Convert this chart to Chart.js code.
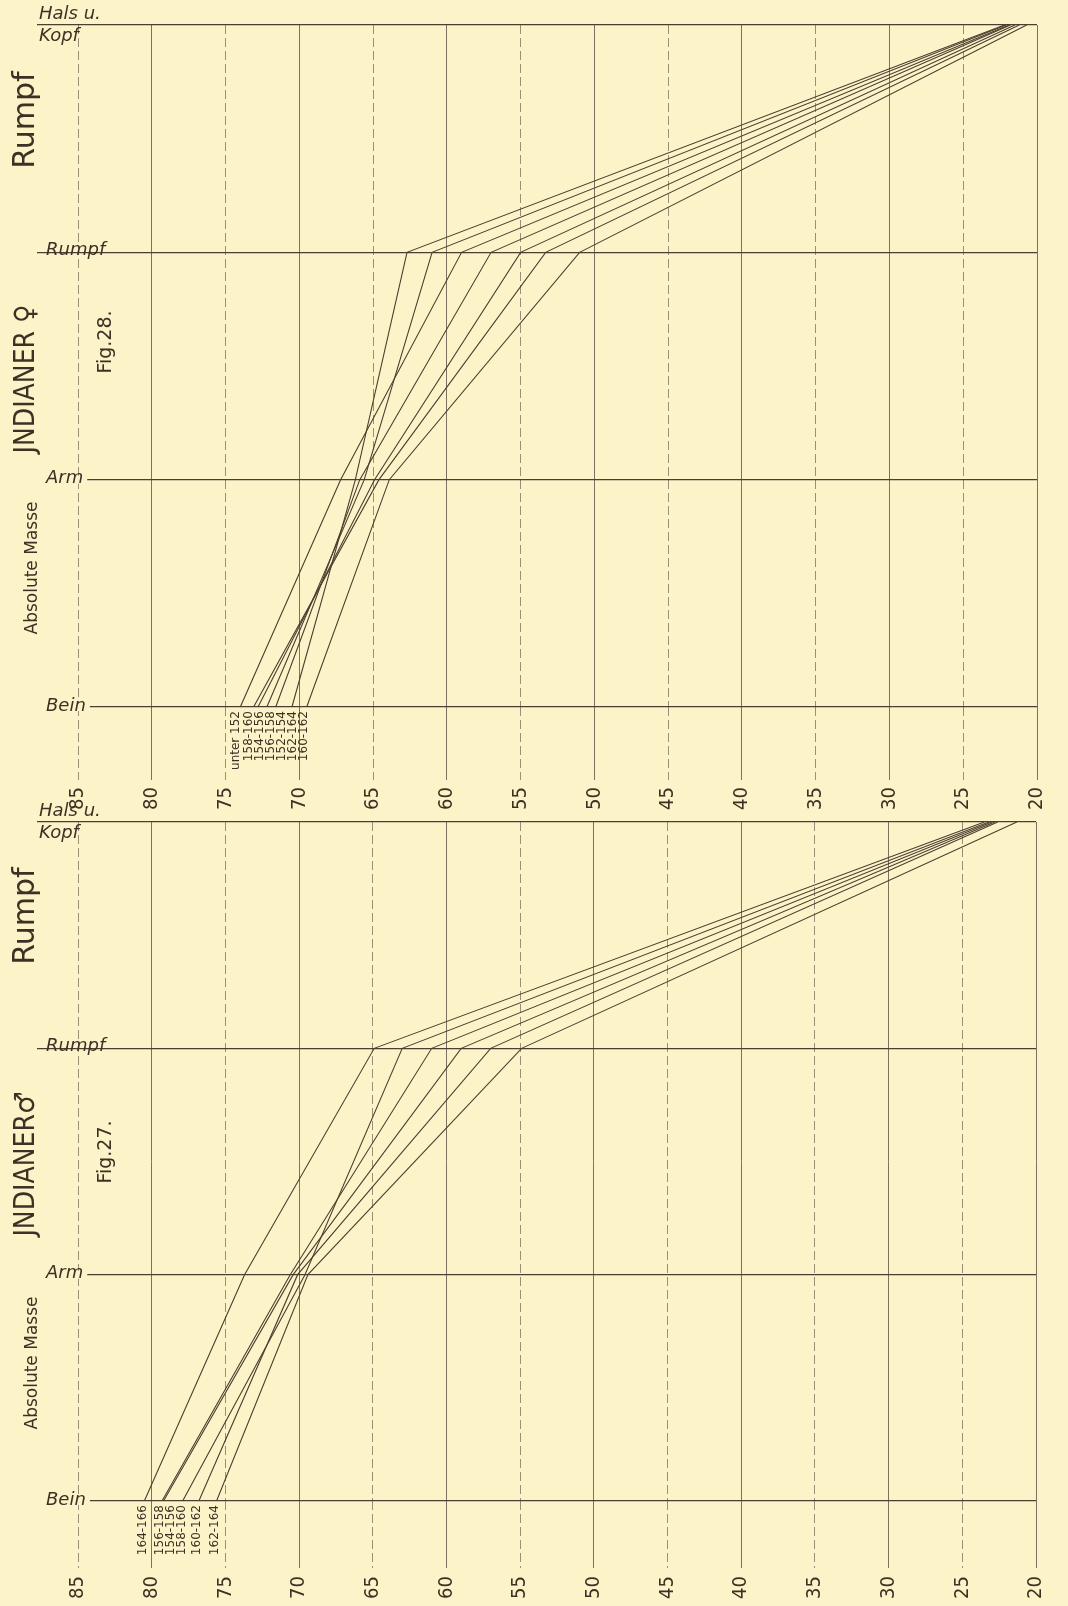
<!DOCTYPE html>
<html>
<head>
<meta charset="utf-8">
<script src="https://cdn.jsdelivr.net/npm/chart.js@4.4.1/dist/chart.umd.min.js"></script>
<style>
  html, body { margin: 0; padding: 0; background: #fcf3c8; }
  body { width: 1068px; height: 1606px; position: relative; overflow: hidden; }
  canvas { position: absolute; left: 0; }
  #fig28 { top: 0; }
  #fig27 { top: 790px; }
</style>
</head>
<body>
<canvas id="fig28" width="1068" height="820"></canvas>
<canvas id="fig27" width="1068" height="816"></canvas>
<script>
// categories, top to bottom
const yLabels = [['Hals u.', 'Kopf'], 'Rumpf', 'Arm', 'Bein'];
const axisMin = 20;
const axisMax = 85;
const axisStep = 5;

// Fig. 28 - Indianer, weiblich  [Hals u. Kopf, Rumpf, Arm, Bein]
const femaleGroups = ['unter 152', '158-160', '154-156', '156-158', '152-154', '162-164', '160-162'];
const fUnter152 = [21.9, 59.0, 67.2, 74.0];
const f158to160 = [21.2, 53.3, 64.6, 73.1];
const f154to156 = [21.5, 55.0, 64.9, 72.8];
const f156to158 = [22.1, 61.0, 65.6, 72.2];
const f152to154 = [21.8, 57.0, 65.9, 71.6];
const f162to164 = [22.2, 62.7, 66.2, 70.5];
const f160to162 = [20.7, 51.0, 63.9, 69.5];
const femaleValues = [fUnter152, f158to160, f154to156, f156to158, f152to154, f162to164, f160to162];

// Fig. 27 - Indianer, maennlich
const maleGroups = ['164-166', '156-158', '154-156', '158-160', '160-162', '162-164'];
const m164to166 = [23.5, 64.9, 73.7, 80.5];
const m156to158 = [23.0, 61.0, 70.6, 79.3];
const m154to156 = [22.8, 59.0, 70.4, 79.2];
const m158to160 = [23.2, 63.0, 69.6, 77.9];
const m160to162 = [22.6, 57.0, 70.1, 76.8];
const m162to164 = [21.3, 54.9, 69.4, 75.6];
const maleValues = [m164to166, m156to158, m154to156, m158to160, m160to162, m162to164];

const paper = '#fcf3c8';
const ink = '#3b3124';
const lineInk = '#4a3f30';
const solidGrid = '#7d7160';
const dashGrid = '#9a8e76';
const narrow = '"Liberation Sans Narrow", "DejaVu Sans Condensed", "DejaVu Sans", sans-serif';
const catFont = 'italic 18px "DejaVu Sans", sans-serif';

const isMajor = (ctx) => ctx.tick && ctx.tick.value % 10 === 0;
const dashFor = (ctx) => (ctx.tick && ctx.tick.value % 10 !== 0) ? [9, 4] : [];

const rotated = function (ctx, text, x, y) {
    ctx.save();
    ctx.translate(x, y);
    ctx.rotate(-Math.PI / 2);
    ctx.fillText(text, 0, 0);
    ctx.restore();
};

const makeTextPlugin = function (items) {
    return {
        id: 'paperText',
        afterDraw(chart) {
            const ctx = chart.ctx;
            const yScale = chart.scales.y;
            ctx.save();
            ctx.fillStyle = ink;
            ctx.textBaseline = 'middle';
            ctx.textAlign = 'center';
            items.forEach(item => {
                ctx.font = item.font;
                rotated(ctx, item.text, item.x, item.y);
            });

            // category names on the left, at their lines
            ctx.font = catFont;
            ctx.textAlign = 'left';
            yLabels.forEach((lab, i) => {
                const y = yScale.getPixelForValue(i);
                if (Array.isArray(lab)) {
                    ctx.fillText(lab[0], 39, y - 11);
                    ctx.fillText(lab[1], 39, y + 11);
                } else if (i === 1) {
                    ctx.fillText(lab, 46, y - 2);
                } else {
                    const w = ctx.measureText(lab).width;
                    ctx.fillStyle = paper;
                    ctx.fillRect(34, y - 4, w + 16, 8);
                    ctx.fillStyle = ink;
                    ctx.fillText(lab, 46, y - 1);
                }
            });

            // group labels under the Bein points, packed side by side
            const pts = chart.data.datasets.map((ds, i) => ({
                label: ds.label,
                x: chart.getDatasetMeta(i).data[3].x
            }));
            pts.sort((a, b) => a.x - b.x);
            const gap = 11;
            const pos = [];
            pts.forEach((p, i) => pos.push(i === 0 ? p.x : Math.max(p.x, pos[i - 1] + gap)));
            const shift = (pts.reduce((s, p) => s + p.x, 0) - pos.reduce((s, v) => s + v, 0)) / pts.length;
            ctx.font = '12px "DejaVu Sans", sans-serif';
            ctx.textAlign = 'right';
            pts.forEach((p, i) => rotated(ctx, p.label, pos[i] + shift, chart.chartArea.bottom + 4));
            ctx.restore();
        }
    };
};

const buildChart = function (el, groups, values, texts, layout) {
    return new Chart(el, {
        type: 'line',
        data: {
            labels: yLabels,
            datasets: groups.map((g, i) => ({
                label: g,
                data: values[i],
                borderColor: lineInk,
                borderWidth: 1.1,
                pointRadius: 0,
                pointHoverRadius: 0,
                tension: 0,
                fill: false
            }))
        },
        options: {
            indexAxis: 'y',
            responsive: false,
            animation: false,
            devicePixelRatio: 1,
            layout: { padding: { left: 40, right: 11, top: layout.top, bottom: 0 } },
            plugins: { legend: { display: false }, tooltip: { enabled: false } },
            scales: {
                x: {
                    type: 'linear',
                    reverse: true,
                    min: axisMin,
                    max: axisMax,
                    afterFit: (scale) => { scale.height = layout.axisHeight; },
                    border: { display: false, dash: dashFor },
                    grid: {
                        color: (ctx) => isMajor(ctx) ? solidGrid : dashGrid,
                        tickColor: (ctx) => isMajor(ctx) ? solidGrid : dashGrid,
                        tickBorderDash: dashFor,
                        lineWidth: 1,
                        tickLength: layout.tickLength
                    },
                    ticks: {
                        stepSize: axisStep,
                        minRotation: 90,
                        maxRotation: 90,
                        padding: layout.tickPad,
                        color: ink,
                        font: { family: narrow, size: 20 }
                    }
                },
                y: {
                    type: 'category',
                    offset: false,
                    afterFit: (scale) => { scale.width = 38; },
                    border: { display: false },
                    grid: {
                        color: lineInk,
                        tickColor: lineInk,
                        lineWidth: 1.2,
                        tickLength: 41
                    },
                    ticks: { display: false }
                }
            }
        },
        plugins: [makeTextPlugin(texts)]
    });
};

buildChart(document.getElementById('fig28'), femaleGroups, femaleValues, [
    { text: 'Rumpf', x: 26, y: 120, font: '30px "DejaVu Sans", sans-serif' },
    { text: 'JNDIANER \u2640', x: 27, y: 379, font: '28px ' + narrow },
    { text: 'Fig.28.', x: 106, y: 342, font: '19px "DejaVu Sans", sans-serif' },
    { text: 'Absolute Masse', x: 33, y: 568, font: '17px "DejaVu Sans", sans-serif' }
], { top: 25, axisHeight: 113, tickLength: 73, tickPad: 7 });

buildChart(document.getElementById('fig27'), maleGroups, maleValues, [
    { text: 'Rumpf', x: 26, y: 126, font: '30px "DejaVu Sans", sans-serif' },
    { text: 'JNDIANER\u2642', x: 27, y: 374, font: '28px ' + narrow },
    { text: 'Fig.27.', x: 106, y: 362, font: '19px "DejaVu Sans", sans-serif' },
    { text: 'Absolute Masse', x: 33, y: 573, font: '17px "DejaVu Sans", sans-serif' }
], { top: 32, axisHeight: 105, tickLength: 67, tickPad: 8 });
</script>
</body>
</html>
